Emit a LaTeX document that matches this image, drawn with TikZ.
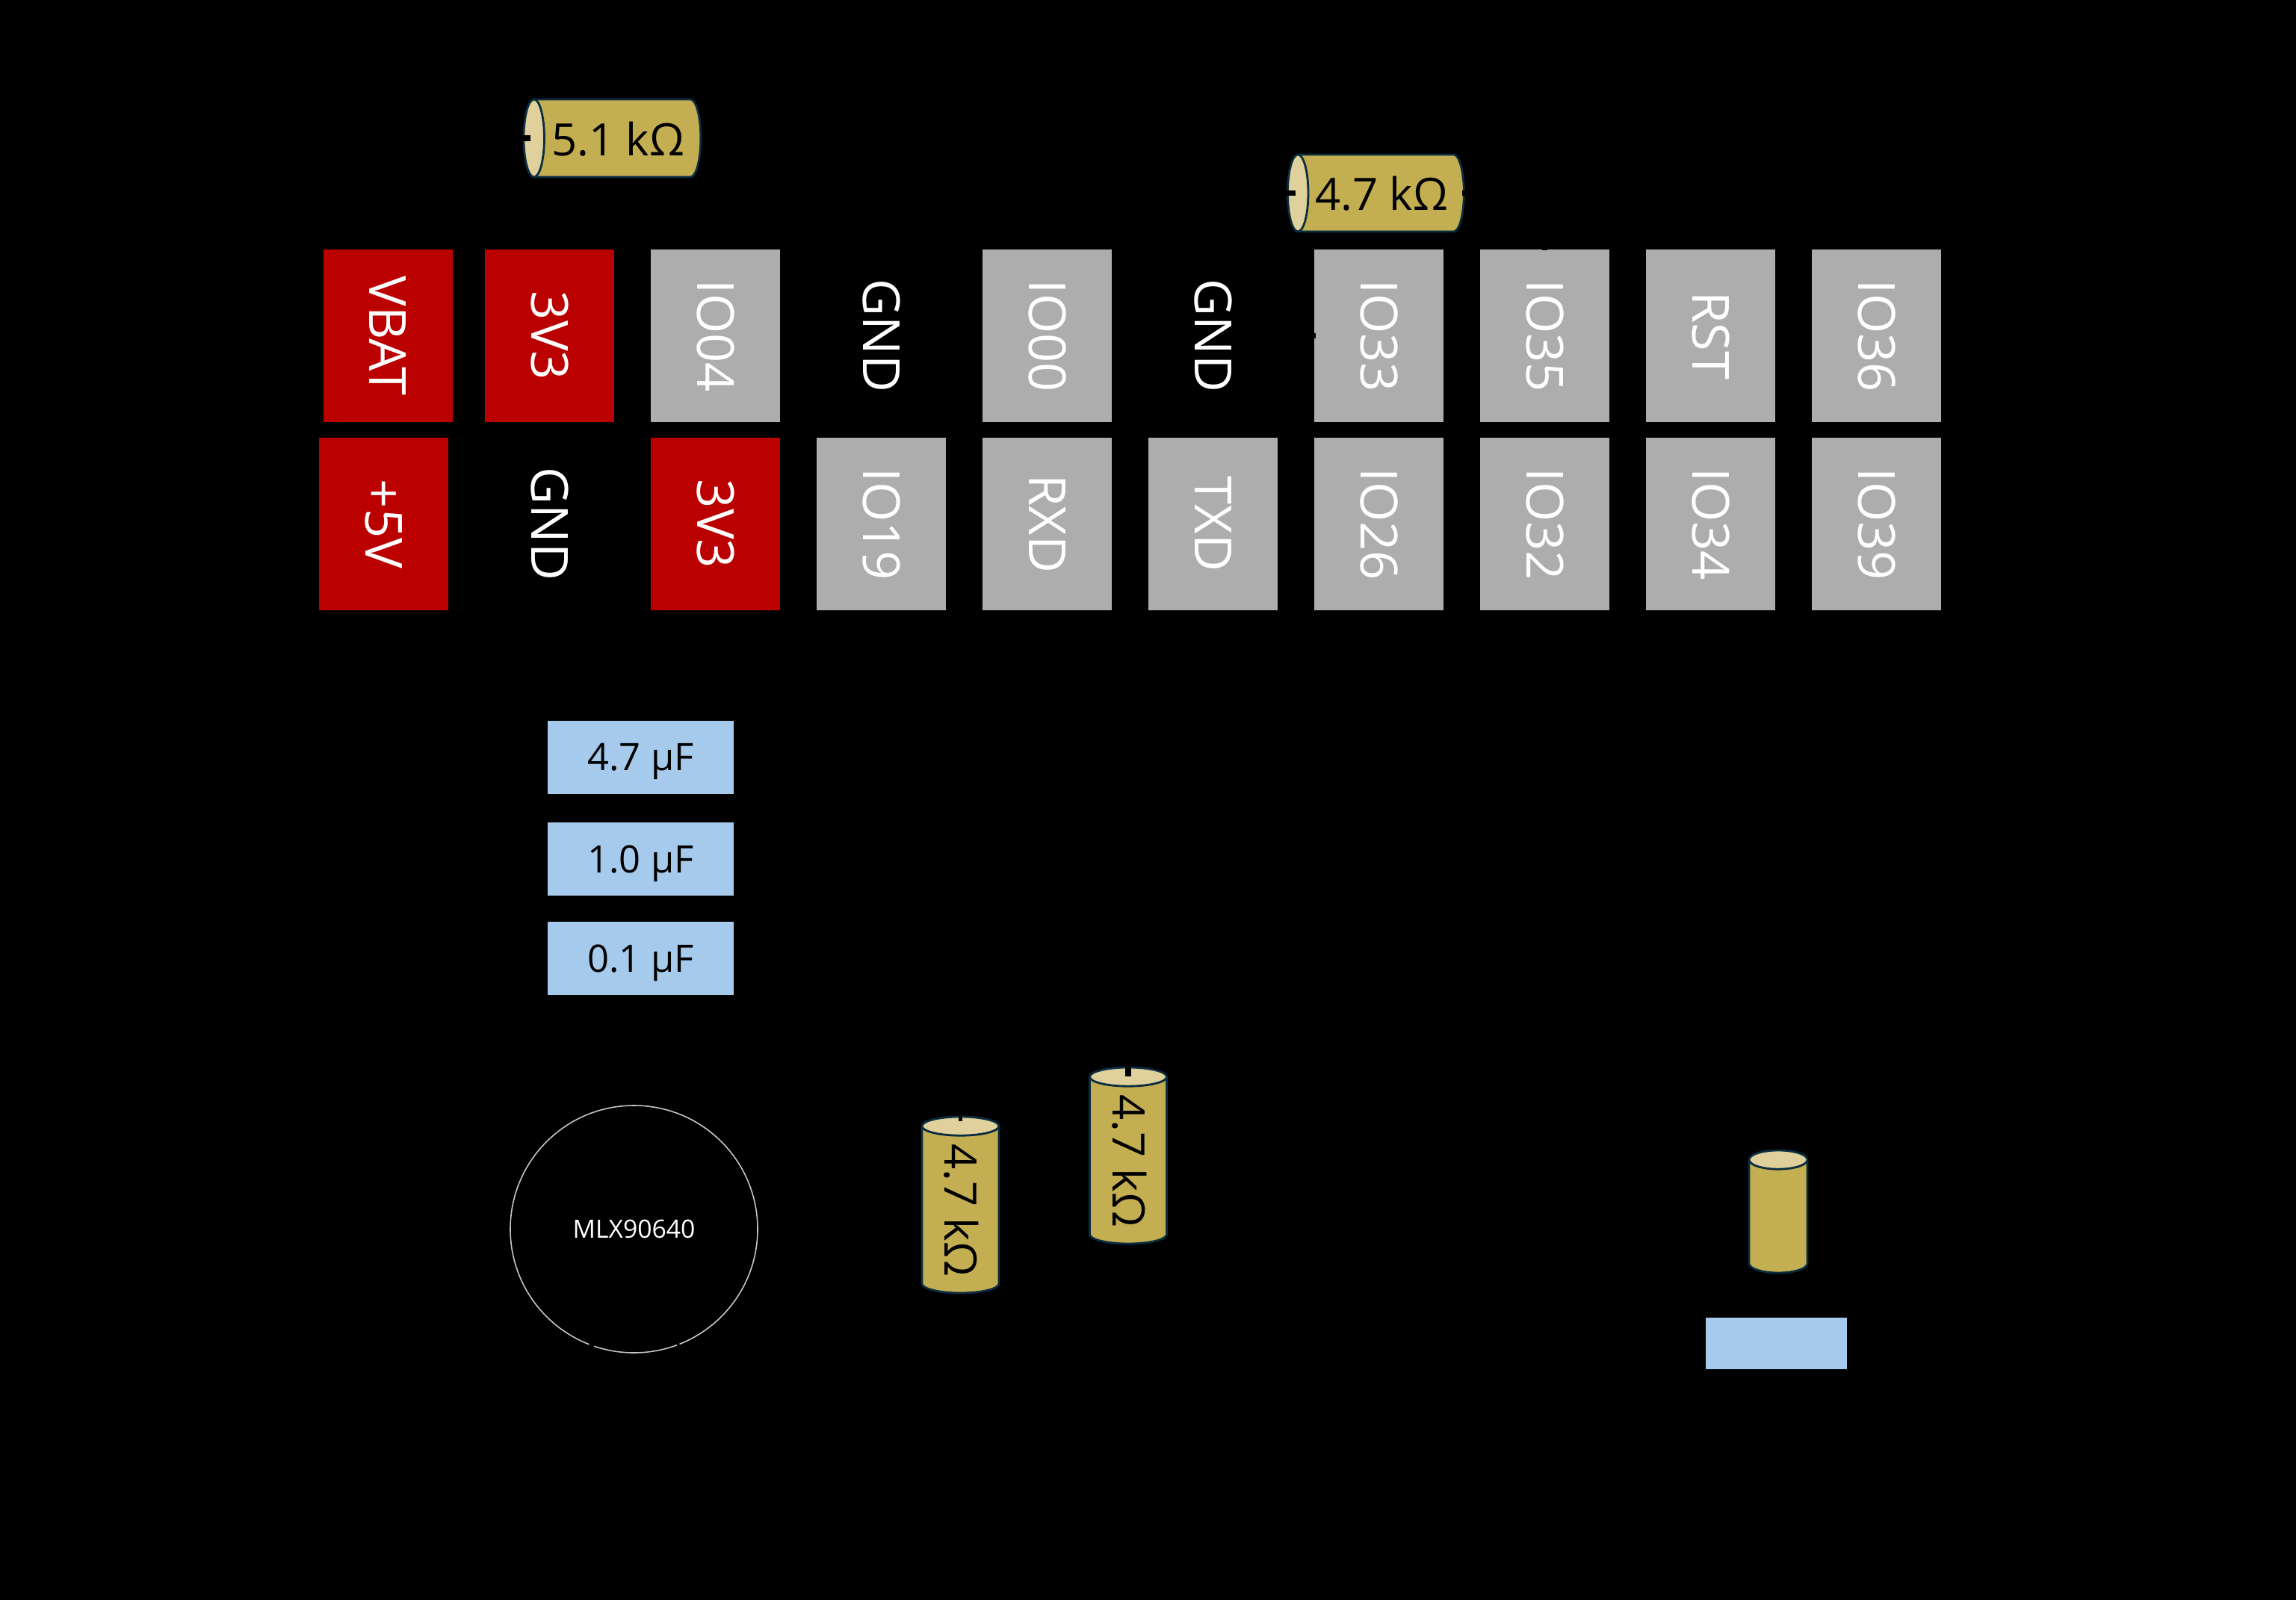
\documentclass[tikz,border=0pt]{standalone}
\usepackage{fontspec}
\setmainfont{Open Sans}
\usetikzlibrary{shapes.geometric}
\definecolor{pinred}{HTML}{BB0000}
\definecolor{pingrey}{HTML}{ADADAD}
\definecolor{capblue}{HTML}{A6CAEC}
\definecolor{resgold}{HTML}{C4AE52}
\definecolor{resend}{HTML}{DFD09C}
\definecolor{resline}{HTML}{0B2D40}
\tikzstyle{pinbox} = [rectangle, rotate=-90, minimum width=2.31cm, minimum height=1.73cm, inner sep=0pt, text=white, font=\fontsize{19.5}{20}\selectfont, text height=0.49cm, text depth=0pt]
\tikzstyle{redpin} = [pinbox, fill=pinred]
\tikzstyle{greypin} = [pinbox, fill=pingrey]
\tikzstyle{capbox} = [rectangle, minimum width=2.49cm, minimum height=0.98cm, inner sep=0pt, fill=capblue, font=\fontsize{14.4}{16}\selectfont, text height=0.36cm, text depth=0pt]
\tikzstyle{res} = [cylinder, shape border rotate=180, aspect=0.6, inner sep=0pt, draw=resline, line width=0.8pt, cylinder uses custom fill, cylinder body fill=resgold, cylinder end fill=resend, font=\fontsize{17}{18}\selectfont, text height=0.42cm, text depth=0pt]
\tikzstyle{wire} = [black, line width=2pt]

\begin{document}
\begin{tikzpicture}[node distance=2.22cm]

  \fill [black] (0,0) rectangle (30.73,-21.42);

  % upper pin row
  \node (vbat) [redpin] at (5.19,-4.495) {VBAT};
  \node (v3top) [redpin] at (7.355,-4.495) {3V3};
  \node (io04) [right of=v3top, greypin] {IO04};
  \node (gndtop) [right of=io04, pinbox] {GND};
  \node (io00) [right of=gndtop, greypin] {IO00};
  \node (gndmid) [right of=io00, pinbox] {GND};
  \node (io33) [right of=gndmid, greypin] {IO33};
  \node (io35) [right of=io33, greypin] {IO35};
  \node (rst) [right of=io35, greypin] {RST};
  \node (io36) [right of=rst, greypin] {IO36};

  % lower pin row
  \node (plus5) [redpin] at (5.135,-7.015) {+5V};
  \node (gndlow) [pinbox] at (7.355,-7.015) {GND};
  \node (v3low) [right of=gndlow, redpin] {3V3};
  \node (io19) [right of=v3low, greypin] {IO19};
  \node (rxd) [right of=io19, greypin] {RXD};
  \node (txd) [right of=rxd, greypin] {TXD};
  \node (io26) [right of=txd, greypin] {IO26};
  \node (io32) [right of=io26, greypin] {IO32};
  \node (io34) [right of=io32, greypin] {IO34};
  \node (io39) [right of=io34, greypin] {IO39};

  % capacitors
  \node (cap47) [capbox] at (8.575,-10.135) {4.7 µF};
  \node (cap10) [capbox] at (8.575,-11.5) {1.0 µF};
  \node (cap01) [capbox] at (8.575,-12.83) {0.1 µF};
  \node (capx) [capbox, minimum width=1.89cm, minimum height=0.69cm] at (23.775,-17.985) {};

  % resistors
  \node (r51) [res, text height=0.46cm, minimum width=1.04cm, minimum height=2.37cm] at (8.27,-1.85) {5.1 kΩ};
  \node (r47) [res, text height=0.46cm, minimum width=1.03cm, minimum height=2.36cm] at (18.49,-2.585) {4.7 kΩ};
  \node (rv1) [res, minimum width=1.03cm, minimum height=2.36cm, rotate=-90] at (12.855,-16.2) {4.7 kΩ};
  \node (rv2) [res, minimum width=1.03cm, minimum height=2.36cm, rotate=-90] at (15.1,-15.54) {4.7 kΩ};
  \node (rv3) [res, minimum width=0.78cm, minimum height=1.64cm, rotate=-90] at (23.8,-16.29) {};

  % sensor
  \node (mlx) [circle, draw=white!78!black, line width=0.45pt, minimum size=3.31cm, inner sep=0pt, text=white, font=\fontsize{9.6}{11}\selectfont] at (8.485,-16.455) {MLX90640};

  % stubs of the wiring
  \draw [wire] (r51.top) -- ++(0.11,0);
  \draw [wire] (r47.top) -- ++(0.12,0);
  \draw [wire] (r47.bottom) -- ++(-0.04,0);
  \draw [wire, line width=1.2pt] (rv1.top) -- ++(0,-0.07);
  \draw [wire] (rv2.top) -- ++(0,-0.13);
  \draw [wire] (io33.south) -- ++(0.03,0);
  \draw [wire] (io35.west) -- ++(0,-0.02);
  \draw [wire] (mlx.250) -- ++(70:0.03);
  \draw [wire] (mlx.250) -- ++(250:0.03);
  \draw [wire, line width=1pt] (mlx.291) -- ++(111:0.03);
  \draw [wire, line width=1pt] (mlx.291) -- ++(291:0.03);

\end{tikzpicture}
\end{document}
